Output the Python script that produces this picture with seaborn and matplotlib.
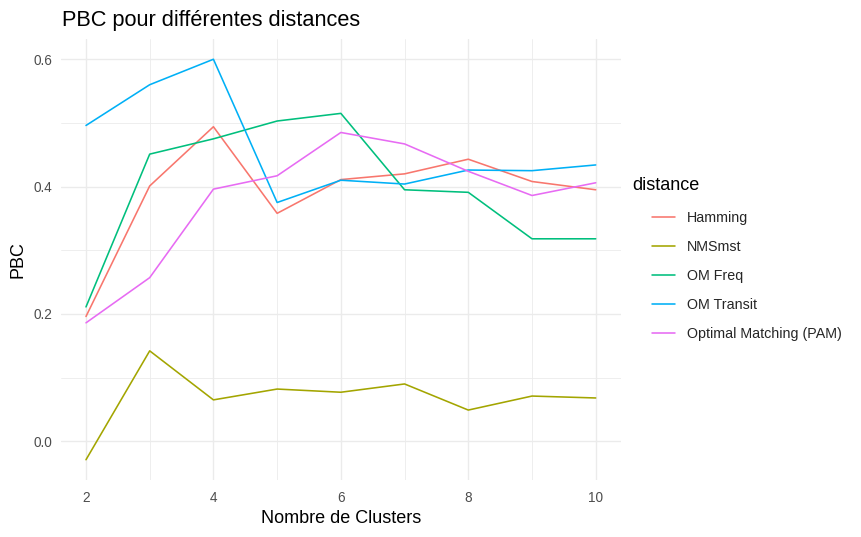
import numpy as np
import pandas as pd
import matplotlib
matplotlib.use("Agg")
import matplotlib.pyplot as plt
import seaborn as sns
from matplotlib.ticker import MultipleLocator
from matplotlib.lines import Line2D

clusters = [2, 3, 4, 5, 6, 7, 8, 9, 10]
hamming = [0.196, 0.401, 0.494, 0.358, 0.411, 0.420, 0.443, 0.408, 0.395]
nmsmst = [-0.029, 0.142, 0.065, 0.082, 0.077, 0.090, 0.049, 0.071, 0.068]
om_freq = [0.211, 0.451, 0.475, 0.503, 0.515, 0.395, 0.391, 0.318, 0.318]
om_transit = [0.496, 0.560, 0.600, 0.375, 0.410, 0.404, 0.426, 0.425, 0.434]
pam = [0.186, 0.257, 0.396, 0.417, 0.485, 0.467, 0.424, 0.386, 0.406]
series_names = ["Hamming", "NMSmst", "OM Freq", "OM Transit", "Optimal Matching (PAM)"]
colors = ["#F8766D", "#A3A500", "#00BF7D", "#00B0F6", "#E76BF3"]

df = pd.DataFrame({
    "clusters": clusters * 5,
    "PBC": hamming + nmsmst + om_freq + om_transit + pam,
    "distance": sum([[n] * len(clusters) for n in series_names], []),
})

sns.set_theme(style="white")
plt.rcParams["font.family"] = ["Liberation Sans", "DejaVu Sans"]

W, H = 861, 537
fig = plt.figure(figsize=(W / 100, H / 100), dpi=100)
L, R, T, B = 60.5, 621.2, 39.2, 480.1
ax = fig.add_axes([L / W, 1 - B / H, (R - L) / W, (B - T) / H])

sns.lineplot(data=df, x="clusters", y="PBC", hue="distance", palette=colors,
             hue_order=series_names, ax=ax, linewidth=1.15, legend=False)

ax.set_xlim(1.6, 10.4)
ax.set_ylim(-0.0610, 0.6315)
ax.xaxis.set_minor_locator(MultipleLocator(1))
ax.yaxis.set_minor_locator(MultipleLocator(0.1))
ax.set_yticks([0.0, 0.2, 0.4, 0.6])
ax.set_yticklabels(["0.0", "0.2", "0.4", "0.6"])
ax.set_xticks([2, 4, 6, 8, 10])
ax.set_xticklabels(["2", "4", "6", "8", "10"])
ax.grid(which="major", color="#EBEBEB", linewidth=1.0)
ax.grid(which="minor", color="#EBEBEB", linewidth=0.6)
ax.set_axisbelow(True)
for s in ax.spines.values():
    s.set_visible(False)
ax.tick_params(which="both", length=0)
ax.tick_params(axis="y", labelsize=9.8, labelcolor="#4D4D4D", pad=6)
ax.tick_params(axis="x", labelsize=9.8, labelcolor="#4D4D4D", pad=8)
ax.set_xlabel("Nombre de Clusters", fontsize=13, color="black", labelpad=3.5)
ax.set_ylabel("PBC", fontsize=13, color="black", labelpad=5)

fig.text(62 / W, 1 - 26 / H, "PBC pour différentes distances", fontsize=15.7,
         color="black", ha="left", va="baseline")

fig.text(632 / W, 1 - 185.5 / H, "distance", fontsize=13, color="black",
         ha="left", va="center")

handles = [Line2D([0], [0], color=c, lw=1.15) for c in colors]
leg = fig.legend(handles, series_names, loc="upper left",
                 bbox_to_anchor=(652 / W, 1 - 211.3 / H), frameon=False,
                 fontsize=10.3, handlelength=1.62, handletextpad=0.8,
                 labelspacing=1.04, borderaxespad=0, borderpad=0)

fig.savefig("out.png", dpi=100)
